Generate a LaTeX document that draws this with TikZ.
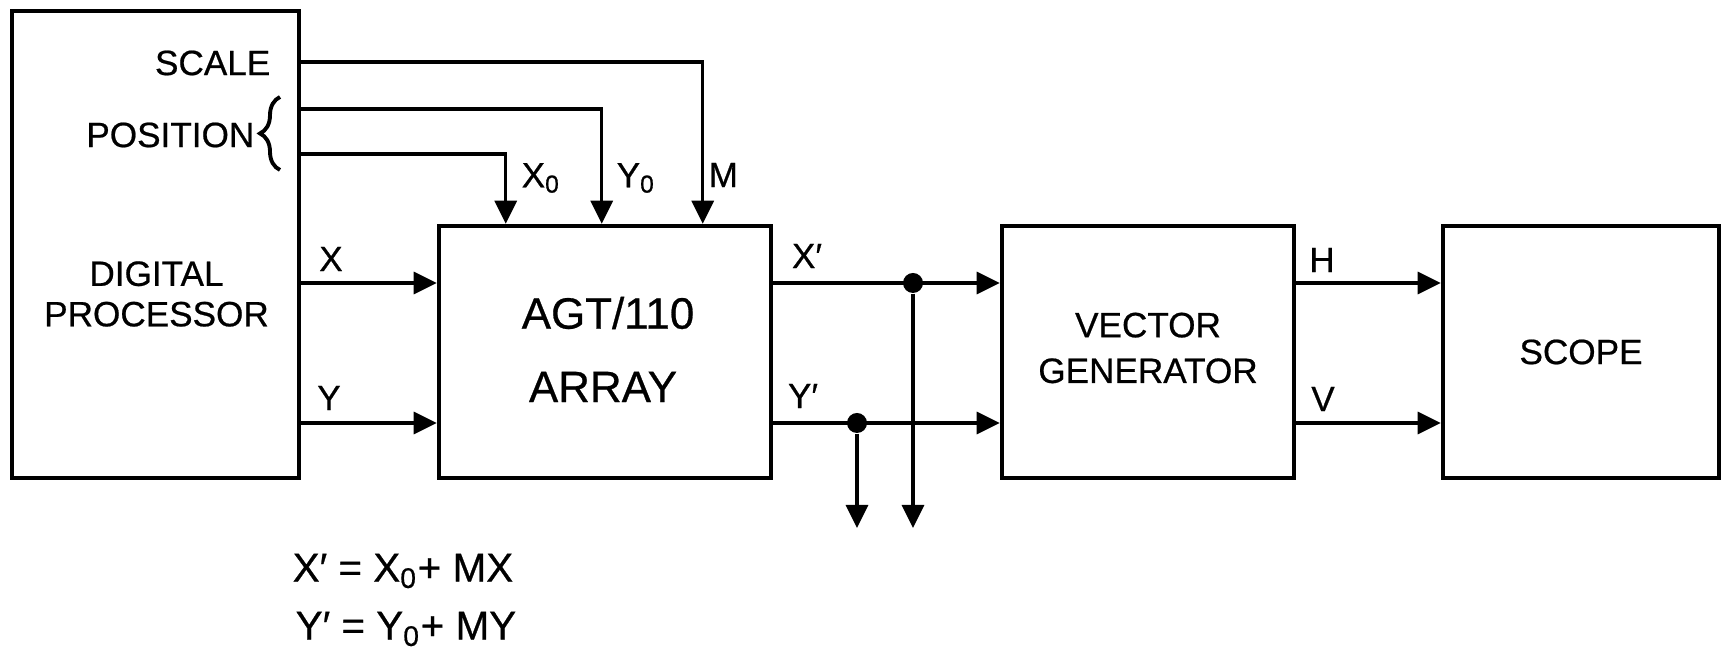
\documentclass[tikz,border=0pt]{standalone}
\usepackage{fontspec}
\setmainfont{Liberation Sans}[FakeBold=0.6]
\usepackage{tikz}
\usetikzlibrary{arrows.meta,positioning,calc,decorations.pathreplacing}

\begin{document}
\begin{tikzpicture}[every node/.style={font=\fontsize{10}{12}\selectfont},
  blk/.style={draw, line width=1.3pt, inner sep=0pt},
  lbl/.style={inner sep=0pt},
  sig/.style={line width=0.9pt, -{Triangle[length=2.3mm,width=2.2mm]}},
  dot/.style={circle, fill, inner sep=0pt, minimum size=2mm}]
\useasboundingbox (0,0) rectangle (17.33,6.48);
% Boxes
\node[blk, minimum width=2.87cm, minimum height=4.67cm] (dp) at (1.555,4.035) {};
\node[blk, minimum width=3.32cm, minimum height=2.52cm] (agt) at (6.05,2.96) {};
\node[blk, minimum width=2.92cm, minimum height=2.52cm] (vg) at (11.48,2.96) {};
\node[blk, minimum width=2.76cm, minimum height=2.52cm] (scope) at (15.81,2.96) {};
% Box texts
\node[lbl, align=center] (dptxt) at (1.565,3.54) {DIGITAL\\[-0.5pt]PROCESSOR};
\node[lbl, font=\fontsize{12.5}{14}\selectfont] (agttxt) at (6.08,3.35) {AGT/110};
\node[lbl, font=\fontsize{12.5}{14}\selectfont] (arrtxt) at (6.03,2.61) {ARRAY};
\node[lbl, align=center] (vgtxt) at (11.48,3.0) {VECTOR\\[1pt]GENERATOR};
\node[lbl] (scopetxt) at (scope) {SCOPE};
% Scale and position
\node[lbl, anchor=east] (scale) at (2.71,5.85) {SCALE};
\node[lbl, anchor=east] (position) at (2.55,5.13) {POSITION};
\draw[line width=1.1pt, decorate, decoration={brace, amplitude=2mm}] (2.80,4.78) -- (2.80,5.51);
\draw[sig] (dp.east |- 0,5.86) -| ([xshift=2.66cm]agt.north west);
\draw[sig] (dp.east |- 0,5.39) -| ([xshift=1.65cm]agt.north west);
\draw[sig] (dp.east |- 0,4.94) -| ([xshift=0.69cm]agt.north west);
\node[lbl, anchor=west] (xo) at (5.21,4.70) {X\textsubscript{0}};
\node[lbl, anchor=west] (yo) at (6.16,4.70) {Y\textsubscript{0}};
\node[lbl, anchor=west] (m) at (7.08,4.73) {M};
% Inputs
\draw[sig] (dp.east |- 0,3.65) -- (agt.west |- 0,3.65);
\draw[sig] (dp.east |- 0,2.25) -- (agt.west |- 0,2.25);
\node[lbl] (xin) at (3.31,3.89) {X};
\node[lbl] (yin) at (3.29,2.50) {Y};
% Outputs and taps
\node[dot] (xdot) at (9.13,3.65) {};
\node[dot] (ydot) at (8.57,2.25) {};
\coordinate (xout) at (9.13,1.20);
\coordinate (yout) at (8.57,1.20);
\draw[sig] (agt.east |- xdot) -- (vg.west |- xdot);
\draw[sig] (agt.east |- ydot) -- (vg.west |- ydot);
\draw[sig] (xdot) -- (xout);
\draw[sig] (ydot) -- (yout);
\node[lbl] (xp) at (8.07,3.92) {X′};
\node[lbl] (yp) at (8.03,2.52) {Y′};
% Scope signals
\draw[sig] (vg.east |- 0,3.65) -- (scope.west |- 0,3.65);
\draw[sig] (vg.east |- 0,2.25) -- (scope.west |- 0,2.25);
\node[lbl] (h) at (13.22,3.88) {H};
\node[lbl] (v) at (13.23,2.49) {V};
% Equations
\node[lbl, anchor=west, font=\fontsize{11.5}{13}\selectfont] (eqx) at (2.92,0.77) {X′ = X\textsubscript{0}+ MX};
\node[lbl, anchor=west, font=\fontsize{11.5}{13}\selectfont] (eqy) at (2.95,0.19) {Y′ = Y\textsubscript{0}+ MY};
\end{tikzpicture}
\end{document}
